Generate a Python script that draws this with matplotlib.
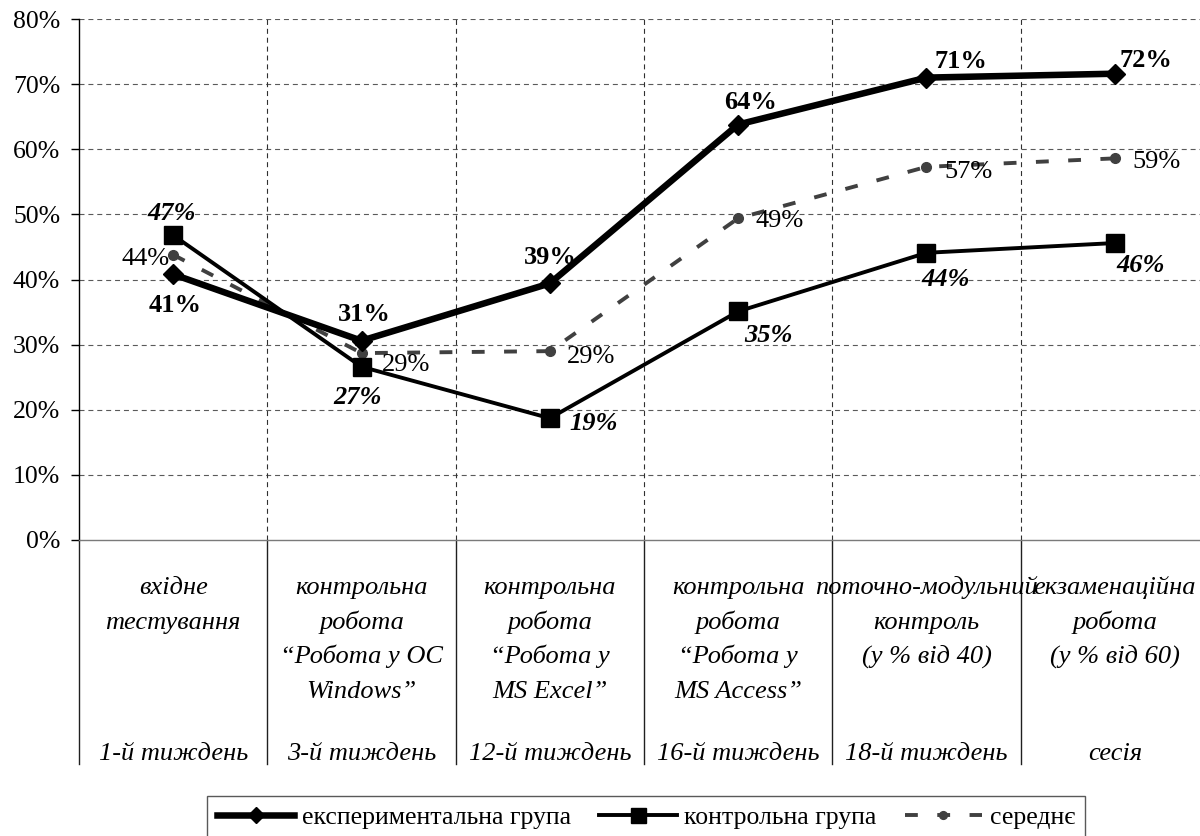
import matplotlib
matplotlib.use("Agg")
import matplotlib.pyplot as plt
from matplotlib.lines import Line2D
from matplotlib.transforms import blended_transform_factory

# Stage names (multi-line) and the week each stage took place
stages = [
    ["вхідне", "тестування"],
    ["контрольна", "робота", "“Робота у ОС", "Windows”"],
    ["контрольна", "робота", "“Робота у", "MS Excel”"],
    ["контрольна", "робота", "“Робота у", "MS Access”"],
    ["поточно-модульний", "контроль", "(у % від 40)"],
    ["екзаменаційна", "робота", "(у % від 60)"],
]
weeks = ["1-й тиждень", "3-й тиждень", "12-й тиждень", "16-й тиждень",
         "18-й тиждень", "сесія"]

# Share of successful results per stage
exp_group = [0.408, 0.306, 0.394, 0.638, 0.710, 0.716]
ctrl_group = [0.468, 0.266, 0.187, 0.351, 0.441, 0.456]
avg_group = [0.438, 0.287, 0.290, 0.494, 0.573, 0.586]

series_names = ["експериментальна група", "контрольна група", "середнє"]
y_ticks = [0.0, 0.1, 0.2, 0.3, 0.4, 0.5, 0.6, 0.7, 0.8]

# Value-label offsets (pixels) from each point
exp_offsets = [(2, -31), (3, 26), (0, 26), (12, 22), (34, 16), (31, 13)]
ctrl_offsets = [(-2, 22), (-4, -31), (44, -5), (30, -24), (19, -27), (26, -22)]
avg_offsets = [(-28, -4), (45, -12), (41, -6), (41, -3), (42, -5), (42, -4)]

plt.rcParams["font.family"] = ["Liberation Serif", "DejaVu Serif"]

W, H = 1200, 836
fig = plt.figure(figsize=(W / 100, H / 100), dpi=100)
x_left, x_right, y_top, y_bot = 79, 1209, 19, 540
ax = fig.add_axes([x_left / W, 1 - y_bot / H, (x_right - x_left) / W,
                   (y_bot - y_top) / H])

n = len(weeks)
xs = [i + 0.5 for i in range(n)]
ax.set_xlim(0, n)
ax.set_ylim(0, 0.8)

# Grid: dashed horizontal lines and dashed category separators
for yv in y_ticks[1:]:
    ax.axhline(yv, color="#5a5a5a", lw=0.8, dashes=(4.5, 3.5), zorder=1)
for i in range(1, n):
    ax.axvline(i, color="#303030", lw=0.8, dashes=(4.5, 3.5), zorder=1)

ax.spines["top"].set_visible(False)
ax.spines["right"].set_visible(False)
ax.spines["bottom"].set_color("#7a7a7a")
ax.spines["bottom"].set_linewidth(1.0)
ax.spines["left"].set_color("black")
ax.spines["left"].set_linewidth(1.0)

ax.set_yticks(y_ticks)
ax.set_yticklabels([f"{round(v * 100)}%" for v in y_ticks])
ax.tick_params(axis="y", length=6, width=1.0, pad=7.5, labelsize=18.5,
               color="black")
ax.set_xticks([])

# Category separators and labels below the axis
px = 1.0 / (y_bot - y_top)  # one pixel in axes units
blend = blended_transform_factory(ax.transData, ax.transAxes)
sep_bottom = 764
for i in range(n):
    ax.plot([i, i], [0, -(sep_bottom - y_bot) * px], color="#202020",
            lw=1.0, transform=blend, clip_on=False)
first_base = 594
line_step = 34.5
for i, lines in enumerate(stages):
    for j, t in enumerate(lines):
        yb = first_base + j * line_step
        ax.text(xs[i], -(yb - y_bot) * px, t, transform=blend,
                ha="center", va="baseline", fontsize=19, fontstyle="italic")
    ax.text(xs[i], -(760 - y_bot) * px, weeks[i], transform=blend,
            ha="center", va="baseline", fontsize=19, fontstyle="italic")

# Series
exp_style = dict(color="black", lw=4.7, marker="D", ms=10, mec="black",
                 mfc="black", zorder=5)
ctrl_style = dict(color="black", lw=2.8, marker="s", ms=13.5, mec="black",
                  mfc="black", zorder=4)
avg_style = dict(color="#404040", lw=2.8, dashes=(3.3, 5.0), marker="o",
                 ms=7, mec="#404040", mfc="#404040", zorder=3,
                 dash_capstyle="butt")

ax.plot(xs, exp_group, clip_on=False, **exp_style)
ax.plot(xs, ctrl_group, clip_on=False, **ctrl_style)
ax.plot(xs, avg_group, clip_on=False, **avg_style)

label_size = 19
for xi, v, off in zip(xs, exp_group, exp_offsets):
    ax.annotate(f"{round(v * 100)}%", (xi, v), xytext=off,
                textcoords="offset pixels", ha="center", va="center",
                fontsize=label_size, fontweight="bold", zorder=6)
for xi, v, off in zip(xs, ctrl_group, ctrl_offsets):
    ax.annotate(f"{round(v * 100)}%", (xi, v), xytext=off,
                textcoords="offset pixels", ha="center", va="center",
                fontsize=label_size, fontweight="bold", fontstyle="italic",
                zorder=6)
for xi, v, off in zip(xs, avg_group, avg_offsets):
    ax.annotate(f"{round(v * 100)}%", (xi, v), xytext=off,
                textcoords="offset pixels", ha="center", va="center",
                fontsize=label_size, zorder=6)

# Legend along the bottom edge
handles = [
    Line2D([], [], **{k: v for k, v in exp_style.items() if k != "zorder"}),
    Line2D([], [], **{k: v for k, v in ctrl_style.items() if k != "zorder"}),
    Line2D([], [], **{k: v for k, v in avg_style.items() if k != "zorder"}),
]
leg = fig.legend(handles, series_names, loc="upper left",
                 bbox_to_anchor=(207 / W, 1 - 796 / H), ncol=3,
                 frameon=True, fancybox=False, edgecolor="#303030",
                 fontsize=18.5, handlelength=3.0, handletextpad=0.3,
                 columnspacing=1.1, borderpad=0.4, borderaxespad=0,
                 markerscale=0.8)
leg.get_frame().set_linewidth(1.0)

fig.savefig("out.png", dpi=100)
